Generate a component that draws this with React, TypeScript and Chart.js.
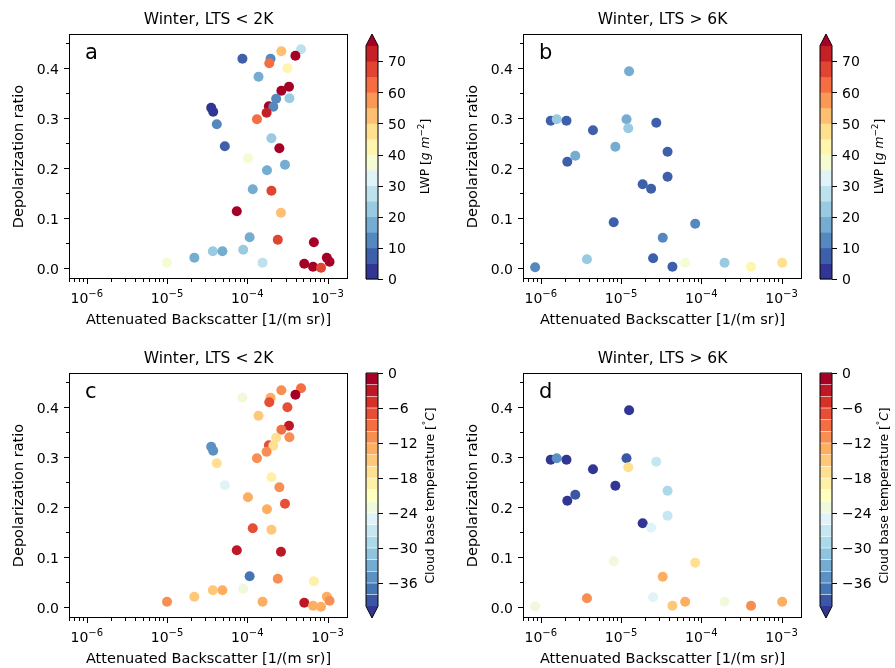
import React, { useEffect, useRef } from "react";
import { Chart, registerables } from "chart.js";

Chart.register(...registerables);

// ---------------- data ----------------
// Winter, LTS < 2K (panels a and c share the same points)
const backscatterLow = [
  8.7e-5, 1.95e-4, 1.88e-4, 2.66e-4, 4.68e-4, 3.98e-4, 3.16e-4, 1.38e-4, 3.31e-4, 2.66e-4,
  2.29e-4, 3.35e-4, 1.86e-4, 2.11e-4, 1.74e-4, 1.32e-4, 3.55e-5, 3.76e-5, 4.17e-5, 5.25e-5,
  2.0e-4, 2.51e-4, 1.02e-4, 2.95e-4, 1.76e-4, 1.17e-4, 2.0e-4, 7.4e-5, 2.63e-4, 1.07e-4,
  2.4e-4, 6.76e-4, 3.72e-5, 4.9e-5, 8.9e-5, 2.19e-5, 1.0e-5, 1.55e-4, 5.13e-4, 6.6e-4,
  8.3e-4, 9.8e-4, 1.06e-3,
];
const depolLow = [
  0.419, 0.419, 0.41, 0.434, 0.438, 0.425, 0.4, 0.383, 0.363, 0.355,
  0.339, 0.34, 0.324, 0.323, 0.311, 0.298, 0.321, 0.313, 0.288, 0.244,
  0.26, 0.24, 0.22, 0.207, 0.196, 0.158, 0.155, 0.114, 0.111, 0.062,
  0.057, 0.052, 0.034, 0.034, 0.037, 0.021, 0.011, 0.011, 0.009, 0.003,
  0.001, 0.021, 0.013,
];
const lwpLow = [
  7, 12, 62, 52, 27, 80, 42, 17, 80, 80,
  12, 22, 80, 12, 72, 62, 2, 2, 12, 7,
  22, 80, 36, 17, 17, 17, 67, 80, 52, 17,
  67, 80, 22, 17, 22, 17, 36, 27, 80, 80,
  67, 80, 80,
];
const tempLow = [
  -23, -13, -7, -11, -9, -1, -7, -15, -3, -9,
  -17, -11, -7, -17, -11, -11, -35, -35, -17, -26,
  -19, -11, -13, -7, -13, -7, -15, -3, -3, -37,
  -11, -19, -15, -13, -23, -15, -11, -13, -3, -13,
  -13, -13, -11,
];

// Winter, LTS > 6K (panels b and d share the same points)
const backscatterHigh = [
  8.5e-7, 1.33e-6, 1.58e-6, 2.09e-6, 2.14e-6, 2.69e-6, 4.47e-6, 3.76e-6, 8.1e-6, 8.5e-6,
  1.26e-5, 1.17e-5, 1.23e-5, 2.75e-5, 3.8e-5, 3.8e-5, 1.86e-5, 2.37e-5, 3.31e-5, 8.4e-5,
  2.51e-5, 4.37e-5, 6.3e-5, 1.95e-4, 4.17e-4, 1.02e-3,
];
const depolHigh = [
  0.002, 0.295, 0.298, 0.295, 0.213, 0.225, 0.276, 0.018, 0.092, 0.243,
  0.394, 0.298, 0.28, 0.291, 0.233, 0.183, 0.168, 0.159, 0.061, 0.089,
  0.02, 0.003, 0.011, 0.011, 0.003, 0.011,
];
const lwpHigh = [
  12, 7, 22, 7, 7, 17, 7, 22, 7, 17,
  17, 17, 22, 7, 7, 7, 7, 7, 12, 12,
  7, 7, 36, 22, 42, 47,
];
const tempHigh = [
  -23, -41, -35, -41, -41, -39, -41, -11, -23, -41,
  -41, -39, -17, -27, -29, -27, -41, -25, -13, -17,
  -25, -15, -13, -23, -11, -13,
];

const xTickExponents = [-6, -5, -4, -3];
const yTickValues = [0, 0.1, 0.2, 0.3, 0.4];
const yMinorValues = [0.05, 0.15, 0.25, 0.35, 0.45];
const lwpTickValues = [0, 10, 20, 30, 40, 50, 60, 70];
const tempTickValues = [0, -6, -12, -18, -24, -30, -36];

const X_MIN = 6.0e-7;
const X_MAX = 1.8e-3;
const Y_MIN = -0.0214;
const Y_MAX = 0.4686;

// ---------------- colours ----------------
const RDYLBU_R = [
  "#313695", "#4575b4", "#74add1", "#abd9e9", "#e0f3f8", "#ffffbf",
  "#fee090", "#fdae61", "#f46d43", "#d73027", "#a50026",
];
function hexToRgb(h: string) {
  return [parseInt(h.slice(1, 3), 16), parseInt(h.slice(3, 5), 16), parseInt(h.slice(5, 7), 16)];
}
const RGB_STOPS = RDYLBU_R.map(hexToRgb);
function cmap(t: number): string {
  const tt = Math.max(0, Math.min(1, t));
  const p = tt * 10;
  const i = Math.min(9, Math.floor(p));
  const f = p - i;
  const a = RGB_STOPS[i];
  const b = RGB_STOPS[i + 1];
  const c = a.map((v, k) => Math.round(v + (b[k] - v) * f));
  return `rgb(${c[0]},${c[1]},${c[2]})`;
}
function lwpColor(v: number) {
  if (v >= 75) return cmap(1);
  const i = Math.max(0, Math.floor(v / 5));
  return cmap(i / 15);
}
function tempColor(v: number) {
  if (v < -40) return cmap(0);
  if (v >= 0) return cmap(1);
  const j = Math.floor((v + 40) / 2);
  return cmap((j + 1) / 20);
}

// ---------------- text helpers ----------------
const FAM = '"DejaVu Sans", sans-serif';
const F = (s: number) => `${s}px ${FAM}`;
const FI = (s: number) => `italic ${s}px ${FAM}`;
type Part = { t: string; f: string; dy?: number };
function partsWidth(ctx: CanvasRenderingContext2D, parts: Part[]) {
  let w = 0;
  for (const p of parts) {
    ctx.font = p.f;
    w += ctx.measureText(p.t).width;
  }
  return w;
}
function drawParts(ctx: CanvasRenderingContext2D, parts: Part[], x: number, y: number, align: "left" | "center" | "right") {
  const w = partsWidth(ctx, parts);
  let cx = align === "center" ? x - w / 2 : align === "right" ? x - w : x;
  ctx.textAlign = "left";
  ctx.textBaseline = "alphabetic";
  for (const p of parts) {
    ctx.font = p.f;
    ctx.fillText(p.t, cx, y + (p.dy || 0));
    cx += ctx.measureText(p.t).width;
  }
}

type PanelCfg = {
  title: string;
  letter: string;
  xs: number[];
  ys: number[];
  cs: number[];
  kind: "lwp" | "temp";
};

const TICK_FS = 14;
const SUP_FS = 10;

function drawColorbar(ctx: CanvasRenderingContext2D, ca: any, kind: "lwp" | "temp") {
  const cbL = ca.right + 18;
  const cbW = 12;
  const cbR = cbL + cbW;
  const H = ca.bottom - ca.top;
  const inner = H / 1.05;
  let v2p: (v: number) => number;
  ctx.save();
  if (kind === "lwp") {
    const y0 = ca.bottom;
    const yTop = ca.bottom - inner;
    v2p = (v) => y0 - (v / 75) * inner;
    for (let i = 0; i < 15; i++) {
      const a = v2p(i * 5 + 5);
      const b = v2p(i * 5);
      ctx.fillStyle = cmap(i / 15);
      ctx.fillRect(cbL, a - 0.3, cbW, b - a + 0.6);
    }
    ctx.fillStyle = cmap(1);
    ctx.beginPath();
    ctx.moveTo(cbL, yTop + 0.3);
    ctx.lineTo(cbL + cbW / 2, ca.top);
    ctx.lineTo(cbR, yTop + 0.3);
    ctx.closePath();
    ctx.fill();
    ctx.strokeStyle = "#000";
    ctx.lineWidth = 1;
    ctx.beginPath();
    ctx.moveTo(cbL, y0);
    ctx.lineTo(cbL, yTop);
    ctx.lineTo(cbL + cbW / 2, ca.top);
    ctx.lineTo(cbR, yTop);
    ctx.lineTo(cbR, y0);
    ctx.closePath();
    ctx.stroke();
  } else {
    const yTop = ca.top;
    const yBot = ca.top + inner;
    v2p = (v) => yTop + (-v / 40) * inner;
    for (let j = 0; j < 20; j++) {
      const a = v2p(-38 + 2 * j);
      const b = v2p(-40 + 2 * j);
      ctx.fillStyle = cmap((j + 1) / 20);
      ctx.fillRect(cbL, b - 0.3, cbW, a - b + 0.6);
    }
    ctx.fillStyle = cmap(0);
    ctx.beginPath();
    ctx.moveTo(cbL, yBot - 0.3);
    ctx.lineTo(cbL + cbW / 2, ca.bottom);
    ctx.lineTo(cbR, yBot - 0.3);
    ctx.closePath();
    ctx.fill();
    ctx.strokeStyle = "#000";
    ctx.lineWidth = 1;
    ctx.beginPath();
    ctx.moveTo(cbL, yTop);
    ctx.lineTo(cbL, yBot);
    ctx.lineTo(cbL + cbW / 2, ca.bottom);
    ctx.lineTo(cbR, yBot);
    ctx.lineTo(cbR, yTop);
    ctx.closePath();
    ctx.stroke();
  }
  // ticks and labels
  const ticks = kind === "lwp" ? lwpTickValues : tempTickValues;
  ctx.fillStyle = "#000";
  ctx.beginPath();
  for (const t of ticks) {
    const y = Math.round(v2p(t)) + 0.5;
    ctx.moveTo(cbR, y);
    ctx.lineTo(cbR + 5, y);
  }
  ctx.stroke();
  for (const t of ticks) {
    const y = v2p(t);
    const txt = t < 0 ? "\u2212" + Math.abs(t) : String(t);
    drawParts(ctx, [{ t: txt, f: F(TICK_FS) }], cbR + 10, y + 5.2, "left");
  }
  // label
  const midY = (ca.top + ca.bottom) / 2;
  ctx.save();
  if (kind === "lwp") {
    ctx.translate(ca.right + 81, midY);
    ctx.rotate(-Math.PI / 2);
    drawParts(
      ctx,
      [
        { t: "LWP [", f: F(12.3) },
        { t: "g m", f: FI(12.3) },
        { t: "\u22122", f: F(8.8), dy: -4.6 },
        { t: "]", f: F(12.3) },
      ],
      0,
      0,
      "center"
    );
  } else {
    ctx.translate(ca.right + 86, midY);
    ctx.rotate(-Math.PI / 2);
    drawParts(
      ctx,
      [
        { t: "Cloud base temperature [", f: F(12.3) },
        { t: "\u00b0", f: F(8.8), dy: -4.6 },
        { t: "C", f: FI(12.3) },
        { t: "]", f: F(12.3) },
      ],
      0,
      0,
      "center"
    );
  }
  ctx.restore();
  ctx.restore();
}

const decorPlugin = {
  id: "decor",
  afterDraw(chart: any, _args: any, opts: any) {
    const cfg: PanelCfg = opts.cfg;
    const { ctx, chartArea: ca, scales } = chart;
    const xs = scales.x;
    const ys = scales.y;
    ctx.save();
    ctx.strokeStyle = "#000";
    ctx.fillStyle = "#000";
    ctx.lineWidth = 1;
    // box
    ctx.strokeRect(ca.left + 0.5, ca.top + 0.5, ca.right - ca.left - 1, ca.bottom - ca.top - 1);
    // x ticks
    ctx.beginPath();
    for (const e of xTickExponents) {
      const px = Math.round(xs.getPixelForValue(Math.pow(10, e))) + 0.5;
      ctx.moveTo(px, ca.bottom);
      ctx.lineTo(px, ca.bottom + 5);
    }
    for (let e = -7; e <= -3; e++) {
      for (let m = 2; m <= 9; m++) {
        const v = m * Math.pow(10, e);
        if (v < X_MIN || v > X_MAX) continue;
        const px = Math.round(xs.getPixelForValue(v)) + 0.5;
        ctx.moveTo(px, ca.bottom);
        ctx.lineTo(px, ca.bottom + 3);
      }
    }
    // y ticks
    for (const v of yTickValues) {
      const py = Math.round(ys.getPixelForValue(v)) + 0.5;
      ctx.moveTo(ca.left, py);
      ctx.lineTo(ca.left - 5, py);
    }
    for (const v of yMinorValues) {
      const py = Math.round(ys.getPixelForValue(v)) + 0.5;
      ctx.moveTo(ca.left, py);
      ctx.lineTo(ca.left - 3, py);
    }
    ctx.stroke();
    // x tick labels
    for (const e of xTickExponents) {
      const px = xs.getPixelForValue(Math.pow(10, e));
      drawParts(
        ctx,
        [
          { t: "10", f: F(TICK_FS) },
          { t: "\u2212" + Math.abs(e), f: F(SUP_FS), dy: -5.6 },
        ],
        px,
        ca.bottom + 24,
        "center"
      );
    }
    // y tick labels
    for (const v of yTickValues) {
      const py = ys.getPixelForValue(v);
      drawParts(ctx, [{ t: v.toFixed(1), f: F(TICK_FS) }], ca.left - 10, py + 5.2, "right");
    }
    // axis titles
    drawParts(ctx, [{ t: "Attenuated Backscatter [1/(m sr)]", f: F(14.5) }], (ca.left + ca.right) / 2, ca.bottom + 45, "center");
    ctx.save();
    ctx.translate(ca.left - 46, (ca.top + ca.bottom) / 2);
    ctx.rotate(-Math.PI / 2);
    drawParts(ctx, [{ t: "Depolarization ratio", f: F(14.5) }], 0, 0, "center");
    ctx.restore();
    // title
    drawParts(ctx, [{ t: cfg.title, f: F(15.5) }], (ca.left + ca.right) / 2, ca.top - 10, "center");
    // panel letter
    drawParts(ctx, [{ t: cfg.letter, f: F(21) }], ca.left + 16, ca.top + 25, "left");
    ctx.restore();
    drawColorbar(ctx, ca, cfg.kind);
  },
};

function Panel(props: { cfg: PanelCfg; left: number; top: number; width: number; height: number }) {
  const ref = useRef<HTMLCanvasElement | null>(null);
  const { cfg, left, top, width, height } = props;
  useEffect(() => {
    if (!ref.current) return;
    const colorFn = cfg.kind === "lwp" ? lwpColor : tempColor;
    const colors = cfg.cs.map(colorFn);
    const points = cfg.xs.map((x, i) => ({ x, y: cfg.ys[i] }));
    const chart = new Chart(ref.current, {
      type: "scatter",
      data: {
        datasets: [
          {
            data: points,
            pointBackgroundColor: colors,
            pointBorderColor: colors,
            pointBorderWidth: 0,
            pointRadius: 5,
            pointHoverRadius: 5,
          } as any,
        ],
      },
      options: {
        responsive: false,
        maintainAspectRatio: false,
        animation: false,
        events: [],
        layout: {
          autoPadding: false,
          padding: { left: 69, top: 34, right: width - 348, bottom: height - 279 },
        } as any,
        plugins: {
          legend: { display: false },
          tooltip: { enabled: false },
          title: { display: false },
          decor: { cfg },
        } as any,
        scales: {
          x: { type: "logarithmic", min: X_MIN, max: X_MAX, display: false },
          y: { type: "linear", min: Y_MIN, max: Y_MAX, display: false },
        },
      },
      plugins: [decorPlugin as any],
    });
    return () => chart.destroy();
  }, [cfg, width, height]);
  return (
    <canvas
      ref={ref}
      width={width}
      height={height}
      style={{ position: "absolute", left, top, width, height }}
    />
  );
}

const panelA: PanelCfg = { title: "Winter, LTS < 2K", letter: "a", xs: backscatterLow, ys: depolLow, cs: lwpLow, kind: "lwp" };
const panelB: PanelCfg = { title: "Winter, LTS > 6K", letter: "b", xs: backscatterHigh, ys: depolHigh, cs: lwpHigh, kind: "lwp" };
const panelC: PanelCfg = { title: "Winter, LTS < 2K", letter: "c", xs: backscatterLow, ys: depolLow, cs: tempLow, kind: "temp" };
const panelD: PanelCfg = { title: "Winter, LTS > 6K", letter: "d", xs: backscatterHigh, ys: depolHigh, cs: tempHigh, kind: "temp" };

export default function App() {
  return (
    <div style={{ position: "absolute", left: 0, top: 0, width: 895, height: 668, background: "#fff", overflow: "hidden" }}>
      <Panel cfg={panelA} left={0} top={0} width={441} height={334} />
      <Panel cfg={panelB} left={454} top={0} width={441} height={334} />
      <Panel cfg={panelC} left={0} top={339} width={441} height={329} />
      <Panel cfg={panelD} left={454} top={339} width={441} height={329} />
    </div>
  );
}
